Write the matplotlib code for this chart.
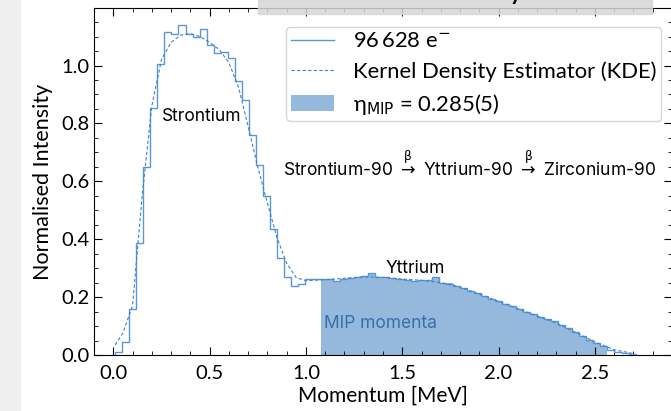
import numpy as np
import matplotlib.pyplot as plt
from matplotlib.patches import Rectangle
from matplotlib.ticker import MultipleLocator

plt.rcParams['font.family'] = ['Lato', 'DejaVu Sans']
plt.rcParams['mathtext.fontset'] = 'dejavusans'

# histogram (step) of electron momenta
bin_start = 0.01
bin_width = 0.0365
counts = [0.011, 0.046, 0.158, 0.386, 0.648, 0.853, 1.007, 1.117, 1.108, 1.140,
          1.108, 1.099, 1.125, 1.072, 1.042, 1.046, 1.027, 0.946, 0.882, 0.761,
          0.657, 0.548, 0.436, 0.335, 0.269, 0.239, 0.245, 0.261, 0.261, 0.262,
          0.263, 0.256, 0.262, 0.265, 0.270, 0.272, 0.283, 0.270, 0.268, 0.265,
          0.262, 0.258, 0.257, 0.258, 0.259, 0.268, 0.250, 0.247, 0.240, 0.233,
          0.222, 0.215, 0.205, 0.195, 0.185, 0.175, 0.168, 0.160, 0.150, 0.140,
          0.132, 0.125, 0.118, 0.105, 0.093, 0.080, 0.066, 0.052, 0.040, 0.030,
          0.018, 0.010, 0.006, 0.004]

# kernel density estimate
kde_x = [0.01, 0.05, 0.10, 0.15, 0.20, 0.25, 0.30, 0.35, 0.40, 0.45, 0.50, 0.55,
         0.60, 0.65, 0.70, 0.75, 0.80, 0.85, 0.90, 0.95, 1.00, 1.10, 1.20, 1.30,
         1.40, 1.50, 1.60, 1.70, 1.80, 1.90, 2.00, 2.10, 2.20, 2.30, 2.40, 2.50,
         2.60, 2.70]
kde_y = [0.035, 0.076, 0.17, 0.55, 0.86, 1.02, 1.08, 1.105, 1.11, 1.10, 1.08, 1.055,
         1.01, 0.925, 0.79, 0.65, 0.525, 0.405, 0.317, 0.267, 0.257, 0.260, 0.265, 0.270,
         0.268, 0.262, 0.258, 0.250, 0.235, 0.210, 0.185, 0.160, 0.135, 0.110, 0.078, 0.045,
         0.018, 0.005]

mip_range = (1.078, 2.565)
n_electrons = "96\u2009628"
eta_mip = "0.285(5)"

edges = bin_start + bin_width * np.arange(len(counts) + 1)
counts = np.array(counts)

line_c = '#5a97d6'
fill_c = '#94b9dd'

fig = plt.figure(figsize=(6.71, 4.11), dpi=100)
ax = fig.add_axes([94 / 671, 56 / 411, 578 / 671, 346.5 / 411])

# filled MIP region following the histogram
i0 = np.searchsorted(edges, mip_range[0])
i1 = np.searchsorted(edges, mip_range[1])
fx = np.concatenate([[mip_range[0]], edges[i0:i1], [mip_range[1]]])
fy = np.concatenate([counts[i0 - 1:i1], [counts[i1 - 1]]])
ax.fill_between(fx, fy, step='post', color=fill_c, lw=0, zorder=1,
                label='η$_{\\mathrm{MIP}}$ = ' + eta_mip)

ax.stairs(counts, edges, color=line_c, lw=1.0, zorder=3,
          label=n_electrons + r' e$^{-}$')
ax.plot(kde_x, kde_y, color='#3f82c6', lw=0.8, ls=(0, (3, 2)), zorder=4,
        label='Kernel Density Estimator (KDE)')

ax.set_xlim(-0.1, 2.9)
ax.set_ylim(0, 1.197)
ax.xaxis.set_major_locator(MultipleLocator(0.5))
ax.xaxis.set_minor_locator(MultipleLocator(0.1))
ax.yaxis.set_major_locator(MultipleLocator(0.2))
ax.yaxis.set_minor_locator(MultipleLocator(0.05))
ax.tick_params(which='both', direction='in', top=True, right=True, labelsize=14.5)
ax.tick_params(which='major', length=6)
ax.tick_params(which='minor', length=3)
ax.tick_params(axis='x', pad=7)
ax.set_xlabel('Momentum [MeV]', fontsize=15, labelpad=3)
ax.set_ylabel('Normalised Intensity', fontsize=15.5, labelpad=6)

h, l = ax.get_legend_handles_labels()
order = [1, 2, 0]
ax.legend([h[i] for i in order], [l[i] for i in order], loc='upper right',
          bbox_to_anchor=(0.981, 0.947), borderaxespad=0, fontsize=15.8,
          handlelength=2.0, handletextpad=0.85, labelspacing=0.45, borderpad=0.2,
          edgecolor='#cccccc', fancybox=True)

ann = dict(family=['Inter', 'DejaVu Sans'], fontsize=12.5)
ax.text(0.46, 0.825, 'Strontium', ha='center', va='center', **ann)
ax.text(1.565, 0.30, 'Yttrium', ha='center', va='center', **ann)
ax.text(1.095, 0.11, 'MIP momenta', ha='left', va='center', color='#3a6ea8', **ann)
ax.text(1.85, 0.655, 'Strontium-90 $\\overset{\\mathrm{β}}{\\rightarrow}$ Yttrium-90 '
        '$\\overset{\\mathrm{β}}{\\rightarrow}$ Zirconium-90', ha='center', va='center', **ann)

# page background bits from the screenshot
fig.patches.append(Rectangle((0, 0), 20 / 671, 1, transform=fig.transFigure,
                             color='#efefef', zorder=-1))
fig.patches.append(Rectangle((258 / 671, 1 - 14 / 411), 394 / 671, 14 / 411,
                             transform=fig.transFigure, color='#d6d6d6',
                             alpha=0.85, zorder=5))
fig.text(516 / 671, 1.0, 'y', fontsize=16, fontweight='bold', va='baseline',
         ha='center', zorder=6)

fig.savefig('out.png', dpi=100)
